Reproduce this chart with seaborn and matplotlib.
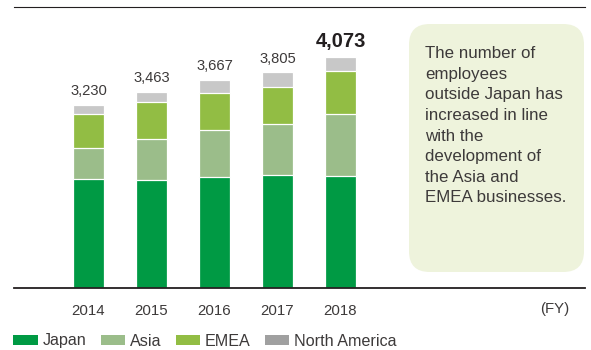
import matplotlib
matplotlib.use("Agg")
import matplotlib.pyplot as plt
from matplotlib.patches import FancyBboxPatch, Patch
import numpy as np
import pandas as pd
import seaborn as sns

years = ["2014", "2015", "2016", "2017", "2018"]
japan = [1920, 1909, 1967, 1997, 1979]
asia = [558, 716, 817, 904, 1093]
emea = [588, 658, 663, 646, 751]
north_america = [164, 180, 220, 258, 250]
totals = [3230, 3463, 3667, 3805, 4073]
total_labels = ["3,230", "3,463", "3,667", "3,805", "4,073"]
regions = ["Japan", "Asia", "EMEA", "North America"]
note = ("The number of\nemployees\noutside Japan has\nincreased in line\n"
        "with the\ndevelopment of\nthe Asia and\nEMEA businesses.")

bar_colors = ["#009a44", "#9bbd8a", "#92bd44", "#c8c8c8"]
legend_colors = ["#009a44", "#9bbd8a", "#92bd44", "#a0a0a0"]
text_color = "#3d3a3a"

sns.set_theme(style="white")
plt.rcParams["font.family"] = ["Liberation Sans", "DejaVu Sans"]

W, H = 591, 350
fig = plt.figure(figsize=(W / 100, H / 100), dpi=100)
base_y, top_y = 288.3, 6.7
ax = fig.add_axes([14 / W, (H - base_y) / H, 571 / W, (base_y - top_y) / H])

# stacked bars drawn as cumulative layers, tallest first
stack = np.vstack([japan, asia, emea, north_america])
cum = np.cumsum(stack, axis=0)
df = pd.DataFrame({"year": years})
for i in range(len(regions) - 1, -1, -1):
    df["v"] = cum[i]
    sns.barplot(data=df, x="year", y="v", order=years, color=bar_colors[i],
                saturation=1, width=31 / 63, edgecolor="white", linewidth=0.9,
                ax=ax)

ax.set_xlim((14 - 88.5) / 63, (585 - 88.5) / 63)
ax.set_ylim(0, (base_y - top_y) * 3230 / 183.3)
ax.set_xlabel("")
ax.set_ylabel("")
ax.set_yticks([])
ax.tick_params(axis="x", length=0, pad=11, labelsize=10.8, labelcolor=text_color)
for s in ["left", "right"]:
    ax.spines[s].set_visible(False)
ax.spines["top"].set_color("#231f20")
ax.spines["top"].set_linewidth(0.8)
ax.spines["bottom"].set_color("#231f20")
ax.spines["bottom"].set_linewidth(1.3)

for i, (t, lab) in enumerate(zip(totals, total_labels)):
    last = i == len(totals) - 1
    ax.annotate(lab, (i, t), xytext=(0, 7), textcoords="offset points",
                ha="center", va="baseline",
                fontsize=14.5 if last else 10.6,
                fontweight="bold" if last else "normal",
                color="#231f20" if last else text_color)

fig.text(554.5 / W, 1 - 309 / H, "(FY)", ha="center", va="center",
         fontsize=10.8, color=text_color)

# note panel
box = FancyBboxPatch((409 / W, 1 - 272 / H), 175 / W, 248 / H,
                     boxstyle="round,pad=0,rounding_size=0.035",
                     transform=fig.transFigure, facecolor="#eef3dc",
                     edgecolor="none", mutation_aspect=W / H)
fig.patches.append(box)
fig.text(425 / W, 1 - 46 / H, note, ha="left", va="top", fontsize=12.2,
         linespacing=1.47, color=text_color)

handles = [Patch(facecolor=c, edgecolor="none") for c in legend_colors]
fig.legend(handles, regions, loc="center left",
           bbox_to_anchor=(13.3 / W, 1 - 341 / H),
           ncol=4, frameon=False, fontsize=11.6, handlelength=1.52,
           handleheight=0.62, handletextpad=0.3, columnspacing=0.88,
           labelcolor=text_color, borderaxespad=0, borderpad=0)

fig.savefig("out.png", dpi=100)
